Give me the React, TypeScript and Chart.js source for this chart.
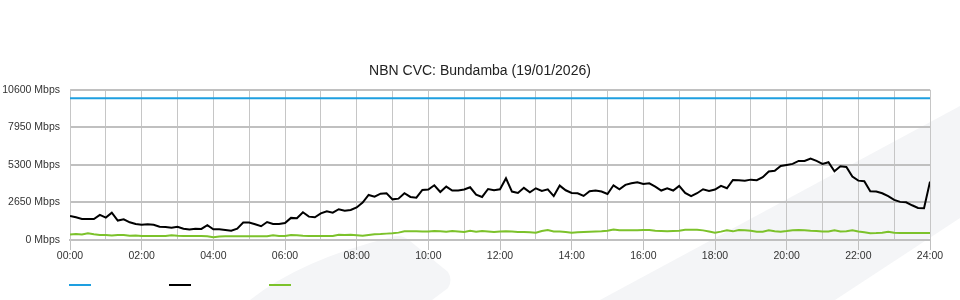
import React, { useEffect, useRef } from "react";
import { Chart, registerables } from "chart.js";

Chart.register(...registerables);

const TITLE = "NBN CVC: Bundamba (19/01/2026)";
const SAMPLES_PER_HOUR = 6; // one reading every 10 minutes
const CAPACITY_MBPS = 10000;
const Y_MAX = 10600;
const Y_STEP = 2650;
const X_MAX_HOURS = 24;

// Download traffic (black), 00:00 .. 24:00 every 10 minutes
const TRAFFIC_MBPS = [
  1700, 1600, 1480, 1480, 1480, 1770, 1580, 1930, 1370, 1460,
  1250, 1130, 1080, 1110, 1080, 940, 920, 870, 940, 800,
  750, 800, 780, 1040, 750, 750, 710, 660, 800, 1230,
  1230, 1110, 970, 1270, 1130, 1130, 1200, 1560, 1530, 1960,
  1650, 1600, 1880, 2030, 1930, 2170, 2070, 2120, 2300,
  2640, 3180, 3060, 3270, 3300, 2870, 2920, 3300, 3040, 2990,
  3530, 3560, 3860, 3390, 3770, 3490, 3490, 3560, 3720, 3200,
  3040, 3600, 3510, 3580, 4360, 3420, 3320, 3680, 3370, 3650,
  3460, 3580, 3100, 3840, 3510, 3320, 3300, 3110, 3440, 3490,
  3420, 3250, 3860, 3580, 3890, 4000, 4080, 3950,
  4000, 3770, 3490, 3650, 3490, 3820, 3320, 3090, 3300, 3580,
  3460, 3560, 3820, 3650, 4240, 4220, 4190, 4260, 4220, 4430,
  4830, 4880, 5230, 5300, 5370, 5580, 5580, 5750, 5580, 5370,
  5490, 4850, 5210, 5160, 4480, 4190, 4150, 3440, 3420, 3300,
  3090, 2830, 2690, 2660, 2450, 2260, 2240, 4120,
];

// Upload traffic (green)
const UPLOAD_MBPS = [
  380, 420, 390, 470, 400, 360, 350, 320, 350, 350,
  300, 320, 290, 280, 280, 280, 280, 330, 300, 280,
  280, 280, 280, 270, 190, 250, 260, 260, 260, 260,
  260, 260, 260, 260, 330, 290, 290, 350, 330, 300,
  280, 280, 280, 280, 280, 370, 360, 370, 340,
  300, 350, 400, 420, 450, 480, 520, 610, 610, 610,
  600, 600, 630, 620, 590, 630, 600, 570, 650, 590,
  630, 600, 570, 600, 610, 600, 570, 560, 540, 520,
  640, 700, 600, 600, 570, 520, 550, 570, 590, 600,
  610, 650, 740, 690, 680, 680, 690, 700,
  700, 660, 640, 620, 640, 660, 730, 730, 730, 680,
  600, 520, 590, 680, 610, 700, 680, 650, 580, 590,
  680, 620, 580, 630, 690, 700, 680, 650, 630, 600,
  600, 680, 600, 620, 680, 600, 540, 480, 490, 510,
  580, 510, 490, 490, 490, 490, 490, 490,
];

const COLOR_CAPACITY = "#1e9fe0";
const COLOR_TRAFFIC = "#000000";
const COLOR_UPLOAD = "#7cc22b";
const FONT_FAMILY = "'Liberation Sans', Arial, Helvetica, sans-serif";

const pad2 = (n: number) => (n < 10 ? "0" + n : "" + n);

const watermarkPlugin = {
  id: "watermark",
  beforeDraw(chart: any) {
    const ctx = chart.ctx;
    ctx.save();
    ctx.fillStyle = "#ffffff";
    ctx.fillRect(0, 0, chart.width, chart.height);
    ctx.fillStyle = "#f4f5f7";
    // small blade, lower middle
    ctx.beginPath();
    ctx.moveTo(250, 300);
    ctx.quadraticCurveTo(300, 260, 392, 237);
    ctx.quadraticCurveTo(402, 234, 410, 241);
    ctx.lineTo(448, 272);
    ctx.quadraticCurveTo(453, 280, 448, 288);
    ctx.lineTo(432, 300);
    ctx.closePath();
    ctx.fill();
    // large diagonal band, lower right
    ctx.beginPath();
    ctx.moveTo(600, 300);
    ctx.lineTo(960, 106);
    ctx.lineTo(960, 218);
    ctx.lineTo(835, 300);
    ctx.closePath();
    ctx.fill();
    ctx.restore();
  },
};

const lineLegendPlugin = {
  id: "lineLegend",
  afterDraw(chart: any) {
    const { ctx, chartArea } = chart;
    chart.data.datasets.forEach((ds: any, i: number) => {
      const x0 = chartArea.left - 1 + i * 100;
      const y = chart.height - 15;
      ctx.save();
      ctx.strokeStyle = ds.borderColor;
      ctx.lineWidth = 2;
      ctx.beginPath();
      ctx.moveTo(x0, y);
      ctx.lineTo(x0 + 22, y);
      ctx.stroke();
      ctx.restore();
    });
  },
};

export default function App() {
  const canvasRef = useRef<HTMLCanvasElement | null>(null);

  useEffect(() => {
    if (!canvasRef.current) return;
    const toPoints = (arr: number[]) =>
      arr.map((v, i) => ({ x: i / SAMPLES_PER_HOUR, y: v }));

    const chart = new Chart(canvasRef.current, {
      type: "line",
      data: {
        datasets: [
          {
            label: "Capacity",
            data: [
              { x: 0, y: CAPACITY_MBPS },
              { x: X_MAX_HOURS, y: CAPACITY_MBPS },
            ],
            borderColor: COLOR_CAPACITY,
            backgroundColor: COLOR_CAPACITY,
            borderWidth: 2,
            pointRadius: 0,
          },
          {
            label: "Download",
            data: toPoints(TRAFFIC_MBPS),
            borderColor: COLOR_TRAFFIC,
            backgroundColor: COLOR_TRAFFIC,
            borderWidth: 2,
            pointRadius: 0,
          },
          {
            label: "Upload",
            data: toPoints(UPLOAD_MBPS),
            borderColor: COLOR_UPLOAD,
            backgroundColor: COLOR_UPLOAD,
            borderWidth: 2,
            pointRadius: 0,
          },
        ],
      },
      options: {
        animation: false,
        responsive: false,
        maintainAspectRatio: false,
        layout: { padding: { top: 0, right: 0, bottom: 30, left: 0 } },
        plugins: {
          legend: { display: false },
          tooltip: { enabled: false },
          title: {
            display: true,
            text: TITLE,
            color: "#222222",
            font: { family: FONT_FAMILY, size: 14, weight: "normal" },
            padding: { top: 63, bottom: 10 },
          },
        },
        scales: {
          x: {
            type: "linear",
            min: 0,
            max: X_MAX_HOURS,
            afterFit: (scale: any) => {
              scale.height = 30;
            },
            ticks: {
              stepSize: 1,
              autoSkip: false,
              maxRotation: 0,
              padding: 0,
              color: "#333333",
              font: { family: FONT_FAMILY, size: 10.5 },
              callback: (v: any) => {
                const n = Number(v);
                return n % 2 === 0 ? pad2(n) + ":00" : "";
              },
            },
            grid: {
              color: "#c6c6c6",
              lineWidth: 1,
              drawTicks: true,
              tickLength: 10,
              tickColor: (ctx: any) =>
                ctx.tick && Number(ctx.tick.value) % 2 === 0
                  ? "#c0c0c0"
                  : "rgba(0,0,0,0)",
            },
            border: { display: true, color: "#c0c0c0", width: 2 },
          },
          y: {
            type: "linear",
            position: "left",
            min: 0,
            max: Y_MAX,
            afterFit: (scale: any) => {
              scale.width = 70;
            },
            ticks: {
              stepSize: Y_STEP,
              padding: 10,
              color: "#333333",
              font: { family: FONT_FAMILY, size: 10.5 },
              callback: (v: any) => v + " Mbps",
            },
            grid: {
              color: "#c0c0c0",
              lineWidth: 2,
              drawTicks: false,
            },
            border: { display: true, color: "#c6c6c6", width: 1 },
          },
          yRight: {
            type: "linear",
            position: "right",
            min: 0,
            max: Y_MAX,
            afterFit: (scale: any) => {
              scale.width = 30;
            },
            ticks: { display: false },
            grid: { display: false, drawTicks: false },
            border: { display: false },
          },
        },
      },
      plugins: [watermarkPlugin, lineLegendPlugin],
    } as any);

    return () => chart.destroy();
  }, []);

  return (
    <div
      style={{
        position: "absolute",
        left: 0,
        top: 0,
        width: 960,
        height: 300,
        background: "#ffffff",
      }}
    >
      <canvas ref={canvasRef} width={960} height={300} />
    </div>
  );
}
